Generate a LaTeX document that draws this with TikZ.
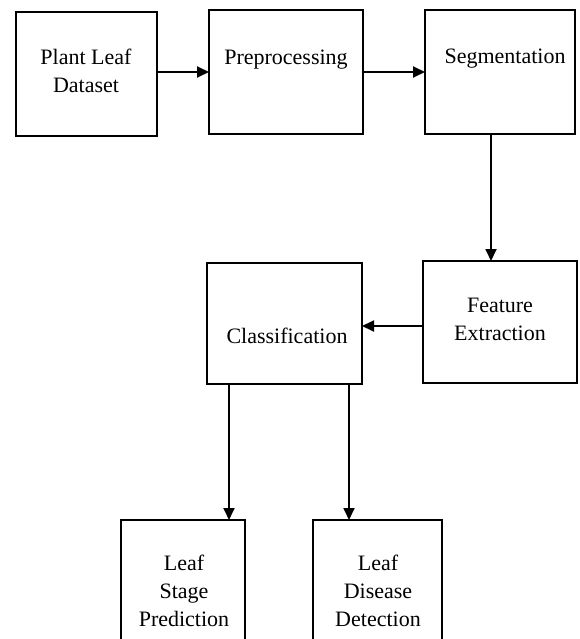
\documentclass[tikz,border=0pt]{standalone}
\usepackage{fontspec}
\setmainfont{Liberation Serif}
\usetikzlibrary{arrows.meta}
\begin{document}
\begin{tikzpicture}[x=1pt,y=-1pt,
  box/.style={draw=black, line width=1.8pt, inner sep=0pt, outer sep=0pt},
  lbl/.style={font=\fontsize{22}{28}\selectfont, align=center, inner sep=0pt},
  arr/.style={line width=1.8pt, -{Triangle[length=12pt,width=11pt]}}]
\useasboundingbox (0,0) rectangle (579,639);
\clip (0,0) rectangle (579,639);
% boxes
\node[box, minimum width=141pt, minimum height=124pt] (b1) at (86.5,74) {};
\node[box, minimum width=154pt, minimum height=124pt] (b2) at (286,72) {};
\node[box, minimum width=150pt, minimum height=124pt] (b3) at (500,72) {};
\node[box, minimum width=154pt, minimum height=122pt] (b4) at (500,322) {};
\node[box, minimum width=155pt, minimum height=121pt] (b5) at (284.5,323.5) {};
\node[box, minimum width=124pt, minimum height=140pt] (b6) at (183,590) {};
\node[box, minimum width=129pt, minimum height=140pt] (b7) at (377.5,590) {};
% labels
\node[lbl] (t1) at (86,71) {Plant Leaf\\Dataset};
\node[lbl] (t2) at (286,60) {Preprocessing};
\node[lbl] (t3) at (505,59) {Segmentation};
\node[lbl] (t4) at (500,319) {Feature\\Extraction};
\node[lbl] (t5) at (287,336) {Classification};
\node[lbl] (t6) at (184,591) {Leaf\\Stage\\Prediction};
\node[lbl] (t7) at (378,591) {Leaf\\Disease\\Detection};
% connectors
\draw[arr] (b1.east |- b2.west) -- (b2.west);
\draw[arr] (b2.east) -- (b3.west);
\draw[arr] ([xshift=-9pt]b3.south) -- ([xshift=-9pt]b3.south |- b4.north);
\draw[arr] ([yshift=-4pt]b4.west) -- ([yshift=-4pt]b4.west -| b5.east);
\draw[arr] ([xshift=-55.5pt]b5.south) -- ([xshift=-55.5pt]b5.south |- b6.north);
\draw[arr] ([xshift=64.5pt]b5.south) -- ([xshift=64.5pt]b5.south |- b7.north);
\end{tikzpicture}
\end{document}
